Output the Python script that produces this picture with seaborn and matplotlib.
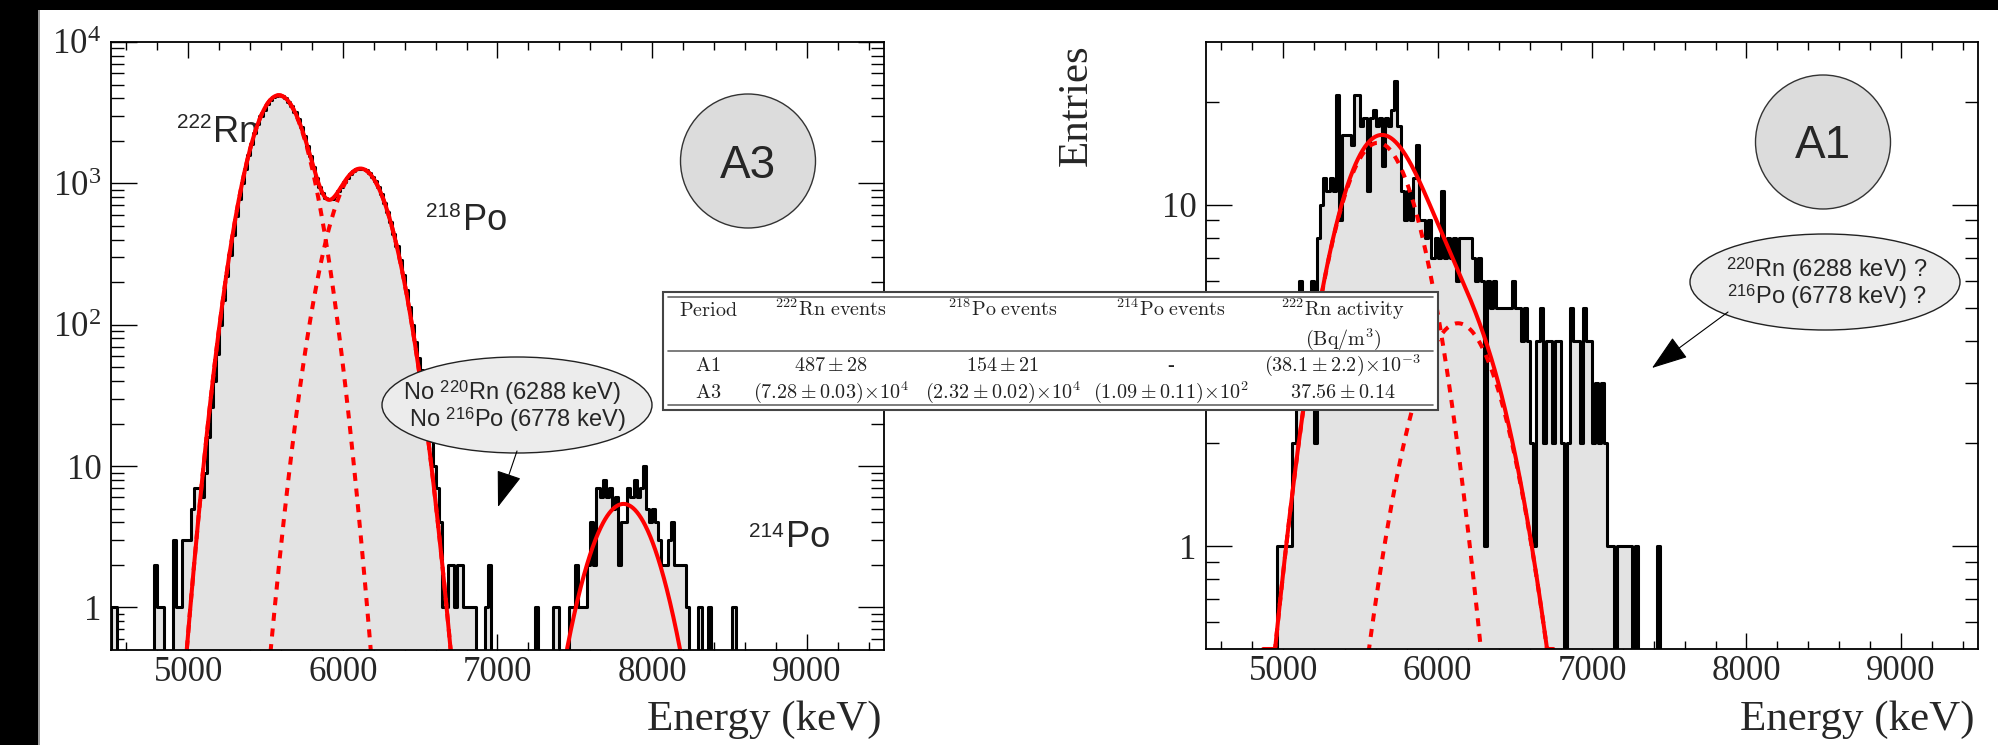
import numpy as np
import pandas as pd
import matplotlib
matplotlib.use("Agg")
import matplotlib.pyplot as plt
import seaborn as sns
from matplotlib.patches import Ellipse, Rectangle, FancyArrowPatch, ArrowStyle
from matplotlib.lines import Line2D
from matplotlib.ticker import FixedLocator, NullFormatter

W, H, DPI = 1999, 745, 100

# Energy binning: 20 keV bins between 4500 and 9500 keV
BIN_EDGES = list(range(4500, 9501, 20))
BIN_CENTERS = [e + 10 for e in BIN_EDGES[:-1]]

# Entries per bin, period A3 (one row = 10 bins = 200 keV, starting at 4500 keV)
a3_counts = [
    1, 1, 0, 0, 0, 0, 0, 0, 0, 0,
    0, 0, 0, 0, 2, 1, 1, 0, 0, 0,
    3, 1, 1, 3, 3, 3, 5, 7, 7, 6,
    9, 16, 26, 40, 62, 100, 150, 220, 310, 430,
    590, 780, 1010, 1270, 1580, 1910, 2260, 2620, 2990, 3320,
    3640, 3890, 4080, 4170, 4200, 4140, 3990, 3790, 3500, 3190,
    2850, 2490, 2150, 1840, 1550, 1300, 1100, 950, 850, 790,
    770, 780, 820, 880, 950, 1030, 1100, 1170, 1220, 1255,
    1270, 1265, 1235, 1185, 1115, 1035, 940, 835, 730, 628,
    530, 440, 358, 287, 226, 176, 134, 100, 76, 58,
    48, 33, 22, 15, 10, 7, 4, 1, 1, 2,
    2, 1, 2, 2, 1, 1, 1, 1, 0, 0,
    0, 1, 2, 0, 0, 0, 0, 0, 0, 0,
    0, 0, 0, 0, 0, 0, 0, 1, 0, 0,
    0, 0, 0, 1, 1, 0, 0, 0, 1, 1,
    2, 1, 1, 1, 2, 4, 2, 7, 6, 8,
    6, 7, 5, 6, 2, 4, 4, 7, 6, 8,
    6, 7, 10, 5, 4, 5, 4, 3, 2, 2,
    3, 4, 2, 2, 2, 2, 1, 0, 0, 0,
    1, 0, 0, 1, 0, 0, 0, 0, 0, 0,
    0, 1, 0, 0, 0, 0, 0, 0, 0, 0,
    0, 0, 0, 0, 0, 0, 0, 0, 0, 0,
    0, 0, 0, 0, 0, 0, 0, 0, 0, 0,
    0, 0, 0, 0, 0, 0, 0, 0, 0, 0,
    0, 0, 0, 0, 0, 0, 0, 0, 0, 0,
]

# Entries per bin, period A1
a1_counts = [
    0, 0, 0, 0, 0, 0, 0, 0, 0, 0,
    0, 0, 0, 0, 0, 0, 0, 0, 0, 0,
    0, 0, 0, 1, 1, 1, 1, 1, 2, 3,
    6, 3, 4, 5, 6, 2, 8, 10, 12, 11,
    12, 11, 21, 9, 16, 16, 16, 15, 21, 21,
    17, 18, 11, 18, 19, 17, 18, 13, 18, 17,
    19, 23, 17, 11, 9, 11, 9, 12, 15, 9,
    9, 8, 9, 7, 8, 7, 11, 7, 8, 7,
    8, 6, 8, 8, 8, 8, 7, 6, 7, 6,
    1, 6, 5, 6, 5, 5, 5, 5, 5, 6,
    5, 5, 4, 5, 4, 2, 1, 4, 5, 2,
    4, 4, 2, 4, 4, 2, 0, 2, 5, 4,
    4, 2, 5, 4, 4, 2, 3, 2, 3, 2,
    1, 1, 0, 1, 1, 1, 1, 1, 0, 1,
    0, 0, 0, 0, 0, 0, 1, 0, 0, 0,
    0, 0, 0, 0, 0, 0, 0, 0, 0, 0,
    0, 0, 0, 0, 0, 0, 0, 0, 0, 0,
    0, 0, 0, 0, 0, 0, 0, 0, 0, 0,
    0, 0, 0, 0, 0, 0, 0, 0, 0, 0,
    0, 0, 0, 0, 0, 0, 0, 0, 0, 0,
    0, 0, 0, 0, 0, 0, 0, 0, 0, 0,
    0, 0, 0, 0, 0, 0, 0, 0, 0, 0,
    0, 0, 0, 0, 0, 0, 0, 0, 0, 0,
    0, 0, 0, 0, 0, 0, 0, 0, 0, 0,
    0, 0, 0, 0, 0, 0, 0, 0, 0, 0,
]

# Gaussian fit components: [amplitude (entries/bin), mean (keV), sigma (keV)]
a3_rn222_fit = [4200, 5585, 140]
a3_po218_fit = [1270, 6115, 147]
a3_po214_fit = [5.4, 7815, 168]
a1_rn222_fit = [15.2, 5614, 255]
a1_po218_fit = [4.5, 6132, 275]

# Fit ranges (keV)
a3_alpha_range = [4950, 6740]
a3_po214_range = [7450, 8250]
a1_alpha_range = [4870, 6750]

x_major = [5000, 6000, 7000, 8000, 9000]
x_major_labels = ["5000", "6000", "7000", "8000", "9000"]
a3_y_major = [1, 10, 100, 1000, 10000]
a3_y_labels = ["1", "10", r"$10^{2}$", r"$10^{3}$", r"$10^{4}$"]
a1_y_major = [1, 10]
a1_y_labels = ["1", "10"]

table_header = [r"$\mathrm{Period}$", r"$^{222}\mathrm{Rn\ events}$",
                r"$^{218}\mathrm{Po\ events}$", r"$^{214}\mathrm{Po\ events}$",
                r"$^{222}\mathrm{Rn\ activity}$"]
table_unit = r"$\mathrm{(Bq/m^{3})}$"
table_row_a1 = [r"$\mathrm{A1}$", r"$487\pm28$", r"$154\pm21$", "-",
                r"$(38.1\pm2.2)\!\times\!10^{-3}$"]
table_row_a3 = [r"$\mathrm{A3}$", r"$(7.28\pm0.03)\!\times\!10^{4}$",
                r"$(2.32\pm0.02)\!\times\!10^{4}$", r"$(1.09\pm0.11)\!\times\!10^{2}$",
                r"$37.56\pm0.14$"]

sns.set_style("ticks")
plt.rcParams.update({
    "font.family": ["Liberation Serif", "DejaVu Serif"],
    "mathtext.fontset": "custom",
    "mathtext.rm": "Liberation Serif",
    "mathtext.it": "Liberation Serif:italic",
    "mathtext.bf": "Liberation Serif:bold",
    "mathtext.sf": "Liberation Sans",
    "axes.linewidth": 1.3,
})


def fx(px):
    return px / W


def fy(py):
    return 1 - py / H


def gauss(e, p):
    a, mu, s = p
    return a * np.exp(-0.5 * ((e - mu) / s) ** 2)


fig = plt.figure(figsize=(W / DPI, H / DPI), dpi=DPI, facecolor="white")
ax_a3 = fig.add_axes([fx(111), fy(650), fx(884) - fx(111), fy(42) - fy(650)])
ax_a1 = fig.add_axes([fx(1206), fy(649), fx(1978) - fx(1206), fy(42) - fy(649)])


def draw_hist(ax, counts):
    df = pd.DataFrame({"energy": BIN_CENTERS, "entries": counts})
    sns.histplot(data=df, x="energy", weights="entries", bins=BIN_EDGES,
                 element="step", fill=True, facecolor="#e3e3e3",
                 edgecolor="black", linewidth=2.2, alpha=1, zorder=1, ax=ax)


def draw_fit(ax, e, y, dotted=False):
    kw = {"linestyle": (0, (2.0, 1.9))} if dotted else {}
    sns.lineplot(x=e, y=y, ax=ax, color="red", linewidth=2.9,
                 estimator=None, sort=False, zorder=3, **kw)


def style_axes(ax, ylim, y_major, y_labels):
    ax.set_yscale("log")
    ax.set_xlim(4500, 9500)
    ax.set_ylim(*ylim)
    ax.set_xticks(x_major, x_major_labels)
    ax.xaxis.set_minor_locator(FixedLocator(
        [e for e in range(4600, 9500, 200) if e % 1000 != 0]))
    ax.set_yticks(y_major, y_labels)
    minors = [m * 10.0 ** k for k in range(-1, 5) for m in range(2, 10)]
    minors = [v for v in minors if ylim[0] < v < ylim[1] * 0.999]
    ax.yaxis.set_minor_locator(FixedLocator(minors))
    ax.yaxis.set_minor_formatter(NullFormatter())
    ax.tick_params(which="both", direction="in", top=True, right=True,
                   width=1.0, color="black")
    ax.tick_params(axis="x", which="major", length=11.5, pad=4.5, labelsize=25)
    ax.tick_params(axis="x", which="minor", length=5.5)
    ax.tick_params(axis="y", which="major", length=18.5, pad=7, labelsize=25)
    ax.tick_params(axis="y", which="minor", length=9.5)
    for sp in ax.spines.values():
        sp.set_linewidth(1.3)
        sp.set_color("black")
        sp.set_zorder(4)
    ax.set_xlabel("")
    ax.set_ylabel("")
    ax.set_facecolor("none")


# ---- period A3 ----
draw_hist(ax_a3, a3_counts)
e_main = np.linspace(a3_alpha_range[0], a3_alpha_range[1], 500)
rn3 = gauss(e_main, a3_rn222_fit)
po3 = gauss(e_main, a3_po218_fit)
draw_fit(ax_a3, e_main, rn3, dotted=True)
draw_fit(ax_a3, e_main, po3, dotted=True)
draw_fit(ax_a3, e_main, rn3 + po3)
e_214 = np.linspace(a3_po214_range[0], a3_po214_range[1], 300)
draw_fit(ax_a3, e_214, gauss(e_214, a3_po214_fit))
style_axes(ax_a3, (0.5, 1e4), a3_y_major, a3_y_labels)

# ---- period A1 ----
draw_hist(ax_a1, a1_counts)
e1 = np.linspace(a1_alpha_range[0], a1_alpha_range[1], 500)
rn1 = gauss(e1, a1_rn222_fit)
po1 = gauss(e1, a1_po218_fit)
draw_fit(ax_a1, e1, rn1, dotted=True)
draw_fit(ax_a1, e1, po1, dotted=True)
draw_fit(ax_a1, e1, np.maximum(rn1 + po1, 0.5))
style_axes(ax_a1, (0.5, 30), a1_y_major, a1_y_labels)


# ---- axis titles ----
def ftext(x, y, s, **kw):
    return fig.text(fx(x), fy(y), s, **kw)


ftext(882, 730, "Energy (keV)", ha="right", va="baseline", fontsize=31)
ftext(1975, 730, "Energy (keV)", ha="right", va="baseline", fontsize=31)
ftext(1076, 44, "Entries", ha="center", va="top", rotation=90, fontsize=31)


# ---- isotope labels ----
def isotope_label(ax, x_join, base_main, base_sup, mass, symbol):
    ax.text(fx(x_join), fy(base_sup), mass, transform=fig.transFigure,
            ha="right", va="baseline", fontsize=15, family="Liberation Sans",
            zorder=0.5)
    ax.text(fx(x_join + 2), fy(base_main), symbol, transform=fig.transFigure,
            ha="left", va="baseline", fontsize=26, family="Liberation Sans",
            zorder=0.5)


isotope_label(ax_a3, 211, 142, 128, "222", "Rn")
isotope_label(ax_a3, 461, 230, 217, "218", "Po")
isotope_label(ax_a3, 784, 547, 537, "214", "Po")


# ---- period badges ----
def badge(cx, cy, text, base):
    fig.add_artist(Ellipse((fx(cx), fy(cy)), 135 / W, 134 / H,
                           transform=fig.transFigure, facecolor="#dcdcdc",
                           edgecolor="#333333", lw=1.0, zorder=5))
    ftext(cx, base, text, ha="center", va="baseline", fontsize=33,
          family="Liberation Sans", zorder=6)


badge(748, 161, "A3", 178)
badge(1823, 142, "A1", 158)


# ---- call-out ellipses with arrows ----
def callout(cx, cy, lines, line_y, line_x, start, tip):
    fig.add_artist(Ellipse((fx(cx), fy(cy)), 270 / W, 96 / H,
                           transform=fig.transFigure, facecolor="#ececec",
                           edgecolor="#222222", lw=1.0, zorder=5))
    for s, y, x in zip(lines, line_y, line_x):
        ftext(x, y, s, ha="center", va="center", fontsize=17,
              family="Liberation Sans", zorder=6)
    fig.add_artist(FancyArrowPatch(
        (fx(start[0]), fy(start[1])), (fx(tip[0]), fy(tip[1])),
        transform=fig.transFigure,
        arrowstyle=ArrowStyle("-|>", head_length=23, head_width=8),
        mutation_scale=1, shrinkA=0, shrinkB=0, lw=0.8, color="black",
        zorder=6))


callout(517, 405,
        [r"No $^{\mathsf{220}}$Rn (6288 keV)", r"No $^{\mathsf{216}}$Po (6778 keV)"],
        [393, 420], [512, 517], (517, 451), (498, 507))
callout(1825, 282,
        [r"$^{\mathsf{220}}$Rn (6288 keV) ?", r"$^{\mathsf{216}}$Po (6778 keV) ?"],
        [270, 297], [1827, 1827], (1728, 312), (1652, 368))

# ---- results table ----
fig.add_artist(Rectangle((fx(663), fy(410)), fx(1438) - fx(663), fy(292) - fy(410),
                         transform=fig.transFigure, facecolor="white",
                         edgecolor="#444444", lw=1.5, zorder=20))
for ry in (297, 351, 405):
    fig.add_artist(Line2D([fx(668), fx(1433)], [fy(ry), fy(ry)],
                          transform=fig.transFigure, color="#666666", lw=1.2,
                          zorder=21))
col_x = [708, 831, 1003, 1171, 1343]
tkw = dict(ha="center", va="baseline", fontsize=14.5, math_fontfamily="cm",
           color="#222222", zorder=22)
for s, x in zip(table_header, col_x):
    ftext(x, 316, s, **tkw)
ftext(col_x[4], 345, table_unit, **tkw)
for s, x in zip(table_row_a1, col_x):
    ftext(x, 371, s, **tkw)
for s, x in zip(table_row_a3, col_x):
    ftext(x, 398, s, **tkw)

# ---- page frame ----
fig.add_artist(Rectangle((0, fy(10)), 1, 10 / H, transform=fig.transFigure,
                         facecolor="black", edgecolor="none", zorder=30))
fig.add_artist(Rectangle((0, 0), fx(38), 1, transform=fig.transFigure,
                         facecolor="black", edgecolor="none", zorder=30))
fig.add_artist(Rectangle((fx(38), 0), fx(1.5), fy(10), transform=fig.transFigure,
                         facecolor="#999999", edgecolor="none", zorder=30))

fig.savefig("out.png", dpi=DPI, facecolor="white")
